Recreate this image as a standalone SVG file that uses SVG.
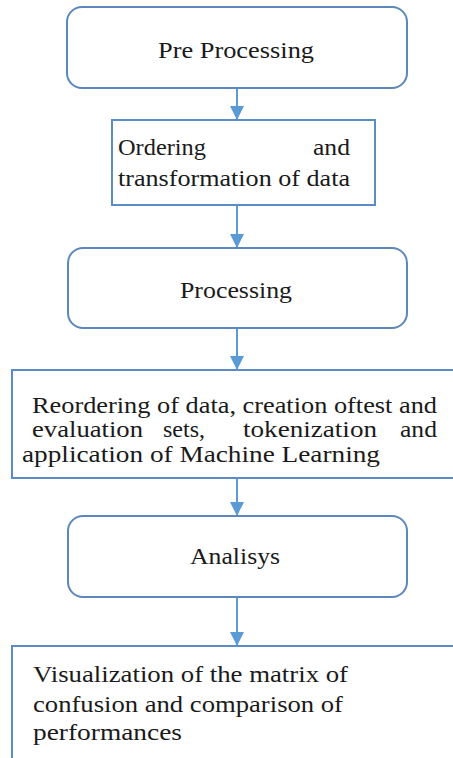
<svg xmlns="http://www.w3.org/2000/svg" width="453" height="758" viewBox="0 0 453 758">
<defs>
<style>
.rbox{fill:#fff;stroke:#5b87bd;stroke-width:2}
.sbox{fill:#fff;stroke:#5b8cc6;stroke-width:2}
.c{stroke:#5b9bd5;stroke-width:2;fill:none}
</style>
<marker id="ah" markerUnits="userSpaceOnUse" markerWidth="14" markerHeight="16" refX="14" refY="7" orient="auto">
<path d="M0,0 L14,7 L0,14 Z" fill="#5b9bd5"/>
</marker>
<clipPath id="clip4"><rect x="0" y="370" width="453" height="97"/></clipPath>
</defs>
<rect width="453" height="758" fill="#fff"/>
<g id="connectors">
<line class="c" x1="237" y1="88" x2="237" y2="120" marker-end="url(#ah)"/>
<line class="c" x1="237" y1="205" x2="237" y2="248" marker-end="url(#ah)"/>
<line class="c" x1="237" y1="328" x2="237" y2="370" marker-end="url(#ah)"/>
<line class="c" x1="237" y1="478" x2="237" y2="516" marker-end="url(#ah)"/>
<line class="c" x1="237" y1="597" x2="237" y2="646" marker-end="url(#ah)"/>
</g>
<g font-family="Liberation Serif, Times New Roman, serif" fill="#1a1a1a" font-size="24">
<g id="pre-processing">
<rect class="rbox" x="67" y="7" width="340" height="81" rx="15"/>
<text x="158" y="58" textLength="156" lengthAdjust="spacingAndGlyphs">Pre Processing</text>
</g>
<g id="ordering">
<rect class="sbox" x="112" y="120" width="263" height="85"/>
<text x="118" y="155" textLength="88" lengthAdjust="spacingAndGlyphs">Ordering</text>
<text x="313" y="155" textLength="37" lengthAdjust="spacingAndGlyphs">and</text>
<text x="118" y="186" textLength="232" lengthAdjust="spacingAndGlyphs">transformation of data</text>
</g>
<g id="processing">
<rect class="rbox" x="68" y="248" width="339" height="80" rx="15"/>
<text x="180" y="298" textLength="112" lengthAdjust="spacingAndGlyphs">Processing</text>
</g>
<g id="reordering">
<rect class="sbox" x="12" y="370" width="460" height="108"/>
<g clip-path="url(#clip4)">
<text x="32" y="413" textLength="405" lengthAdjust="spacingAndGlyphs">Reordering of data, creation oftest and</text>
<text x="32" y="437" textLength="111" lengthAdjust="spacingAndGlyphs">evaluation</text>
<text x="163" y="437">sets,</text>
<text x="243" y="437" textLength="134" lengthAdjust="spacingAndGlyphs">tokenization</text>
<text x="400" y="437" textLength="37" lengthAdjust="spacingAndGlyphs">and</text>
<text x="22" y="462" textLength="358" lengthAdjust="spacingAndGlyphs">application of Machine Learning</text>
</g>
</g>
<g id="analisys">
<rect class="rbox" x="68" y="516" width="339" height="81" rx="15"/>
<text x="190" y="564" textLength="90" lengthAdjust="spacingAndGlyphs">Analisys</text>
</g>
<g id="visualization">
<rect class="sbox" x="12" y="646" width="460" height="130"/>
<text x="33" y="682" textLength="315" lengthAdjust="spacingAndGlyphs">Visualization of the matrix of</text>
<text x="33" y="712" textLength="310" lengthAdjust="spacingAndGlyphs">confusion and comparison of</text>
<text x="33" y="740" textLength="149" lengthAdjust="spacingAndGlyphs">performances</text>
</g>
</g>
</svg>
